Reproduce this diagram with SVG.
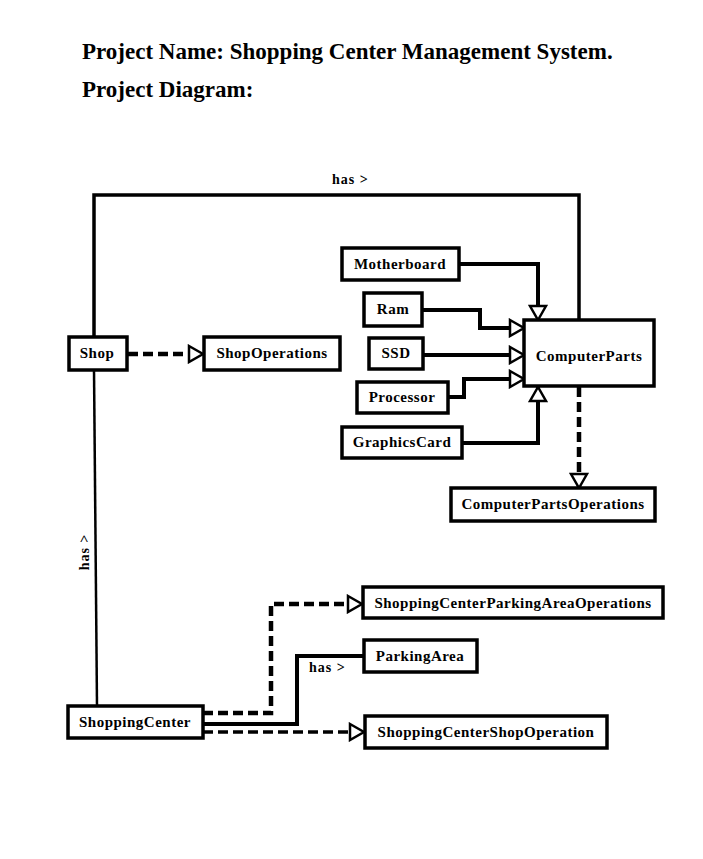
<svg xmlns="http://www.w3.org/2000/svg" width="703" height="859" viewBox="0 0 703 859">
<style>
.box{fill:#fff;stroke:#000;stroke-width:3.5}
.lbl{font-family:"Liberation Serif","Times New Roman",serif;font-weight:bold;font-size:15px;letter-spacing:0.5px;fill:#000;text-anchor:middle}
.title{font-family:"Liberation Serif","Times New Roman",serif;font-weight:bold;font-size:23px;fill:#000}
.has{font-family:"Liberation Serif","Times New Roman",serif;font-weight:bold;font-size:14px;letter-spacing:1px;fill:#000}
.solid{fill:none;stroke:#000;stroke-width:4}
.dash{fill:none;stroke:#000;stroke-width:4.5;stroke-dasharray:10 5}
</style>
<defs>
<marker id="tri" markerUnits="userSpaceOnUse" markerWidth="20" markerHeight="20" refX="14" refY="8" orient="auto" viewBox="-2 -2 18 20">
<path d="M0,0 L14,8 L0,16 z" fill="#fff" stroke="#000" stroke-width="2.5"/>
</marker>
</defs>
<rect width="703" height="859" fill="#fff"/>
<text class="title" x="82" y="59">Project Name: Shopping Center Management System.</text>
<text class="title" x="82" y="97">Project Diagram:</text>

<g id="connectors">
<polyline class="solid" style="stroke-width:3.5" points="94,337 94,195 579,195 579,320"/>
<text class="has" x="332" y="184">has &gt;</text>
<line class="solid" style="stroke-width:2.5" x1="94" y1="370" x2="97" y2="706"/>
<text class="has" transform="translate(89,552) rotate(-90)" text-anchor="middle">has &gt;</text>
<line class="dash" x1="128" y1="354" x2="203" y2="354" marker-end="url(#tri)"/>
<polyline class="solid" points="459,264 538,264 538,320" marker-end="url(#tri)"/>
<polyline class="solid" points="422,310 480,310 480,328 524,328" marker-end="url(#tri)"/>
<line class="solid" x1="423" y1="355" x2="524" y2="355" marker-end="url(#tri)"/>
<polyline class="solid" points="448,397 464,397 464,379 524,379" marker-end="url(#tri)"/>
<polyline class="solid" points="462,443 538,443 538,387" marker-end="url(#tri)"/>
<line class="dash" x1="579" y1="387" x2="579" y2="488" marker-end="url(#tri)"/>
<polyline class="dash" points="203,713 271,713 271,604 362,604" marker-end="url(#tri)"/>
<polyline class="solid" points="203,724 297,724 297,656 363,656"/>
<text class="has" x="309" y="672">has &gt;</text>
<line class="dash" style="stroke-width:3.5" x1="203" y1="732" x2="364" y2="732" marker-end="url(#tri)"/>
</g>

<g id="Shop"><rect class="box" x="69" y="337" width="58" height="33"/><text class="lbl" x="97" y="358">Shop</text></g>
<g id="ShopOperations"><rect class="box" x="204" y="337" width="136" height="33"/><text class="lbl" x="272" y="358">ShopOperations</text></g>
<g id="Motherboard"><rect class="box" x="342" y="248" width="117" height="32"/><text class="lbl" x="400" y="269">Motherboard</text></g>
<g id="Ram"><rect class="box" x="364" y="293" width="58" height="33"/><text class="lbl" x="393" y="314">Ram</text></g>
<g id="SSD"><rect class="box" x="369" y="338" width="54" height="31"/><text class="lbl" x="396" y="358">SSD</text></g>
<g id="Processor"><rect class="box" x="357" y="382" width="91" height="31"/><text class="lbl" x="402" y="402">Processor</text></g>
<g id="GraphicsCard"><rect class="box" x="342" y="427" width="120" height="31"/><text class="lbl" x="402" y="447">GraphicsCard</text></g>
<g id="ComputerParts"><rect class="box" x="524" y="320" width="130" height="66"/><text class="lbl" x="589" y="361">ComputerParts</text></g>
<g id="ComputerPartsOperations"><rect class="box" x="451" y="488" width="204" height="33"/><text class="lbl" x="553" y="509">ComputerPartsOperations</text></g>
<g id="ShoppingCenterParkingAreaOperations"><rect class="box" x="363" y="587" width="300" height="31"/><text class="lbl" x="513" y="608">ShoppingCenterParkingAreaOperations</text></g>
<g id="ParkingArea"><rect class="box" x="364" y="640" width="113" height="32"/><text class="lbl" x="420" y="661">ParkingArea</text></g>
<g id="ShoppingCenter"><rect class="box" x="68" y="706" width="135" height="32"/><text class="lbl" x="135" y="727">ShoppingCenter</text></g>
<g id="ShoppingCenterShopOperation"><rect class="box" x="365" y="716" width="242" height="32"/><text class="lbl" x="486" y="737">ShoppingCenterShopOperation</text></g>
</svg>
